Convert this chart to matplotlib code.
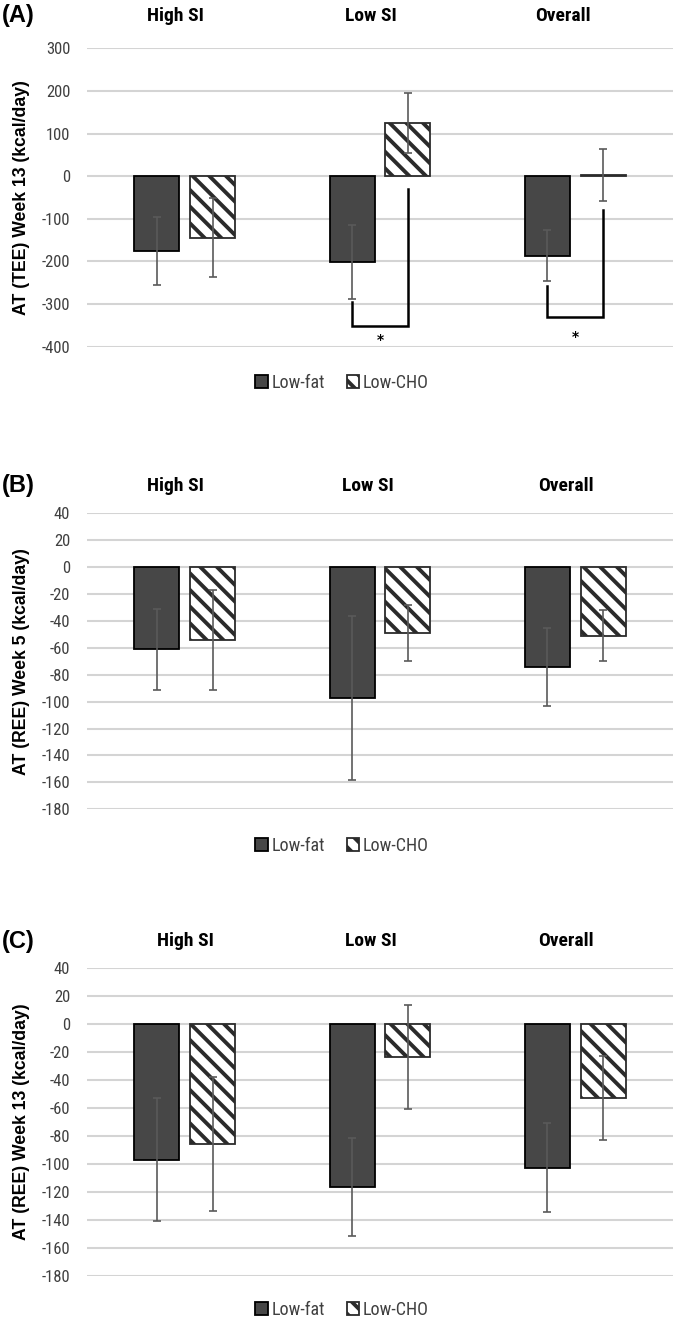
import matplotlib.pyplot as plt
from matplotlib import font_manager
import numpy as np

groups = ['High SI', 'Low SI', 'Overall']
series = ['Low-fat', 'Low-CHO']

# (A) TEE week 13
tee13_fat = [-176, -202, -186]
tee13_fat_err = [80, 87, 59]
tee13_cho = [-144, 125, 3]
tee13_cho_err = [93, 70, 61]
# significance brackets: group index, left top, bottom, right top, star y
tee13_sig = [(1, -296, -351, -31, -385), (2, -258, -331, -80, -377)]

# (B) REE week 5
ree5_fat = [-61, -97, -74]
ree5_fat_err = [30, 61, 29]
ree5_cho = [-54, -49, -51]
ree5_cho_err = [37, 21, 19]

# (C) REE week 13
ree13_fat = [-97, -116.5, -102.5]
ree13_fat_err = [44, 35, 32]
ree13_cho = [-85.5, -23.5, -53]
ree13_cho_err = [48, 37, 30]

ticksA = [300, 200, 100, 0, -100, -200, -300, -400]
ticksBC = [40, 20, 0, -20, -40, -60, -80, -100, -120, -140, -160, -180]

# pick a narrow font that is really there
have = set(f.name for f in font_manager.fontManager.ttflist)
narrow = 'Liberation Sans'
for name in ['Liberation Sans Narrow', 'Arial Narrow', 'Roboto Condensed', 'Archivo Narrow',
             'PT Sans Narrow', 'Fira Sans Condensed', 'IBM Plex Sans Condensed',
             'Barlow Semi Condensed', 'Encode Sans Condensed', 'Open Sans Condensed']:
    if name in have:
        narrow = name
        break
narrow = [narrow, 'DejaVu Sans']
arial = ['Liberation Sans', 'DejaVu Sans']

plt.rcParams['hatch.linewidth'] = 2.8

fig = plt.figure(figsize=(6.78, 13.17), dpi=100)

panels = [
    ('(A)', 'AT (TEE) Week 13 (kcal/day)', tee13_fat, tee13_fat_err, tee13_cho, tee13_cho_err,
     ticksA, tee13_sig, 0.7367, 0.9633, 23.5, [-0.049, 0.954, 1.937], 383),
    ('(B)', 'AT (REE) Week 5 (kcal/day)', ree5_fat, ree5_fat_err, ree5_cho, ree5_cho_err,
     ticksBC, [], 0.3855, 0.6102, 20, [-0.049, 0.939, 1.953], 846),
    ('(C)', 'AT (REE) Week 13 (kcal/day)', ree13_fat, ree13_fat_err, ree13_cho, ree13_cho_err,
     ticksBC, [], 0.0311, 0.2648, 19.5, [0.002, 0.954, 1.953], 1310),
]

x = np.arange(len(groups))
w = 0.23
off = 0.143

for tag, ylab, fat, fat_err, cho, cho_err, ticks, sig, y0, y1, tpad, tx, legy in panels:
    ax = fig.add_axes([0.1283, y0, 0.8643, y1 - y0])
    ax.set_xlim(-0.5, 2.5)
    ax.set_ylim(min(ticks), max(ticks))
    for t in ticks:
        ax.axhline(t, color='#d4d4d4', lw=1.5, zorder=0)
    b1 = ax.bar(x - off, fat, w, color='#474747', edgecolor='black', lw=1.3, label=series[0], zorder=2)
    b2 = ax.bar(x + off, cho, w, color='white', edgecolor='#2b2b2b', hatch='\\\\', lw=1.3,
                label=series[1], zorder=2)
    ax.errorbar(x - off, fat, yerr=fat_err, fmt='none', ecolor='#5a5a5a', elinewidth=1.2,
                capsize=3, capthick=1.2, zorder=3)
    ax.errorbar(x + off, cho, yerr=cho_err, fmt='none', ecolor='#5a5a5a', elinewidth=1.2,
                capsize=3, capthick=1.2, zorder=3)
    for g, lt, bot, rt, sy in sig:
        ax.plot([g - off, g - off, g + off, g + off], [lt, bot, bot, rt], color='black', lw=1.8,
                zorder=4, solid_joinstyle='miter')
        ax.text(g, sy, '*', ha='center', va='center', fontsize=10, fontweight='bold')
    ax.set_yticks(ticks)
    ax.set_yticklabels([str(t) for t in ticks], family=narrow, fontsize=12, color='#404040')
    ax.tick_params(axis='y', length=0, pad=12)
    ax.set_xticks([])
    for s in ax.spines.values():
        s.set_visible(False)
    for name, px in zip(groups, tx):
        ax.annotate(name, xy=(px, 1), xycoords=('data', 'axes fraction'), xytext=(0, tpad),
                    textcoords='offset points', ha='center', va='center', family=narrow,
                    fontsize=14, fontweight='bold')
    ax.annotate(tag, xy=(2 / 678, 1), xycoords=('figure fraction', 'axes fraction'), xytext=(0, tpad),
                textcoords='offset points', ha='left', va='center', fontsize=17, fontweight='bold',
                family=arial)
    fig.text(22 / 678, (y0 + y1) / 2, ylab, rotation=90, ha='center', va='center', fontsize=12.7,
             fontweight='bold', family=arial)
    leg = fig.legend([b1, b2], series, loc='center', bbox_to_anchor=(342 / 678, 1 - legy / 1317),
                     ncol=2, frameon=False, handlelength=0.7, handleheight=0.7, handletextpad=0.2,
                     columnspacing=1.2, prop={'family': narrow, 'size': 13})
    for t in leg.get_texts():
        t.set_color('#404040')

plt.savefig('out.png', dpi=100)
